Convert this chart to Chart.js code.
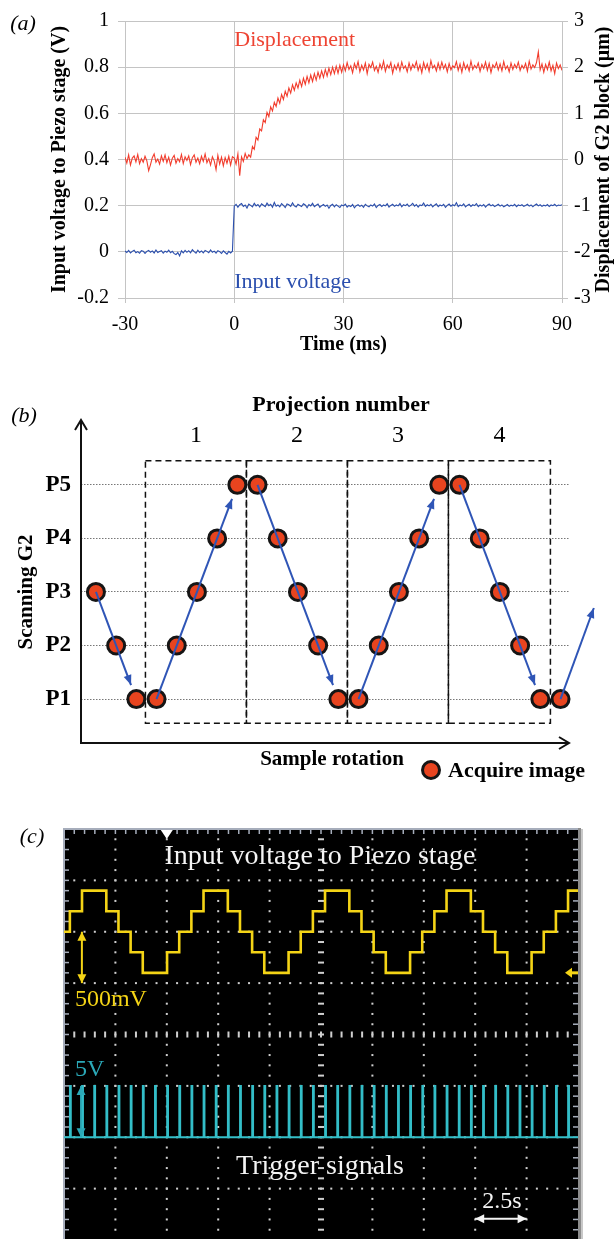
<!DOCTYPE html>
<html>
<head>
<meta charset="utf-8">
<title>Piezo stage scanning</title>
<script src="https://cdn.jsdelivr.net/npm/chart.js@4.4.1/dist/chart.umd.min.js"></script>
<style>
  html, body { margin: 0; padding: 0; background: #fff; }
  body { width: 615px; height: 1239px; overflow: hidden; position: relative; }
  canvas { position: absolute; left: 0; }
</style>
</head>
<body>
<canvas id="chart-a" width="615" height="390" style="top:0px"></canvas>
<canvas id="chart-b" width="615" height="410" style="top:390px"></canvas>
<canvas id="chart-c" width="615" height="430" style="top:810px"></canvas>
<script>
// ---------- (a) step response ----------
var timeStartMs = -30;
var timeStepMs = 0.5;

// input voltage to piezo stage (V), one sample every 0.5 ms from -30 ms
var inputVoltageV = [
  0.004,-0.003,0.006,-0.005,0.002,0.007,-0.004,0.001,-0.006,0.005,
  0.003,-0.007,0.002,0.006,-0.002,0.004,-0.005,0.008,-0.003,0.001,
  0.005,-0.006,0.003,-0.002,0.007,-0.004,0.002,-0.008,-0.012,-0.003,
  -0.018,0.004,-0.005,0.006,-0.002,0.005,-0.004,0.009,0.001,-0.006,
  0.007,-0.003,0.004,-0.005,0.006,0.002,-0.004,0.008,-0.002,0.003,
  -0.006,0.005,0.001,-0.007,0.004,-0.003,-0.010,0.002,-0.005,0.003,
  0.198,0.206,0.193,0.204,0.209,0.197,0.203,0.190,0.207,0.201,
  0.195,0.210,0.199,0.205,0.194,0.208,0.202,0.196,0.211,0.200,
  0.206,0.193,0.214,0.198,0.203,0.195,0.209,0.201,0.192,0.207,
  0.204,0.197,0.212,0.199,0.194,0.206,0.201,0.196,0.208,0.203,
  0.191,0.205,0.199,0.210,0.196,0.202,0.207,0.193,0.200,0.205,
  0.197,0.203,0.189,0.201,0.206,0.195,0.204,0.198,0.192,0.203,
  0.199,0.207,0.194,0.201,0.196,0.205,0.191,0.200,0.204,0.197,
  0.202,0.193,0.206,0.199,0.195,0.203,0.198,0.207,0.192,0.201,
  0.205,0.196,0.203,0.199,0.208,0.194,0.201,0.206,0.197,0.203,
  0.199,0.209,0.195,0.204,0.200,0.207,0.196,0.202,0.210,0.198,
  0.205,0.194,0.203,0.200,0.211,0.197,0.204,0.199,0.206,0.195,
  0.202,0.208,0.196,0.203,0.199,0.206,0.193,0.201,0.207,0.198,
  0.204,0.200,0.213,0.196,0.203,0.199,0.208,0.195,0.201,0.206,
  0.197,0.204,0.200,0.209,0.196,0.203,0.198,0.205,0.194,0.202,
  0.207,0.199,0.204,0.196,0.201,0.206,0.198,0.203,0.195,0.200,
  0.205,0.197,0.202,0.199,0.206,0.196,0.203,0.200,0.204,0.197,
  0.201,0.206,0.198,0.203,0.195,0.202,0.207,0.199,0.204,0.197,
  0.202,0.199,0.205,0.196,0.203,0.200,0.206,0.198,0.203,0.201,
  0.204
];

// displacement of G2 block (um), same sampling
var displacementUm = [
  0.05,-0.08,0.10,-0.12,0.03,0.08,-0.05,0.11,-0.09,0.02,
  -0.06,0.07,-0.03,-0.24,-0.11,0.04,0.12,-0.06,0.01,-0.10,
  0.08,-0.04,0.10,-0.07,0.05,-0.12,0.03,0.09,-0.08,0.02,
  -0.05,0.11,-0.09,0.06,-0.02,0.08,-0.11,0.04,0.10,-0.06,
  0.03,-0.09,0.07,-0.04,0.12,-0.07,0.02,-0.12,0.06,-0.03,
  -0.22,0.09,-0.10,0.05,-0.14,0.04,-0.08,0.07,-0.12,0.06,
  0.03,-0.10,0.12,-0.35,0.06,-0.04,0.13,0.02,
  0.10,0.05,0.28,0.22,0.48,0.42,0.66,0.62,0.86,0.80,
  1.02,0.93,1.14,1.05,1.24,1.15,1.33,1.22,1.41,1.30,
  1.48,1.37,1.55,1.44,1.62,1.50,1.66,1.55,1.72,1.58,
  1.76,1.63,1.80,1.66,1.83,1.69,1.86,1.72,1.89,1.76,
  1.92,1.78,1.95,1.81,1.98,1.84,2.00,1.86,2.02,1.87,
  2.04,1.89,
  2.05,1.92,2.10,1.95,2.03,1.88,2.08,1.97,2.12,1.90,
  2.04,1.94,2.09,1.86,2.06,1.99,2.11,1.93,2.02,1.89,
  2.07,1.96,2.13,1.91,2.05,1.98,2.10,1.87,2.04,1.95,
  2.08,1.92,2.11,1.97,2.03,1.90,2.09,1.94,2.06,1.99,
  2.12,1.93,2.05,1.88,2.10,1.96,2.07,1.91,2.14,1.98,
  2.04,1.92,2.09,1.95,2.11,1.97,2.06,1.90,2.08,1.94,
  2.03,1.99,2.12,1.93,2.07,1.89,2.10,1.96,2.05,1.92,
  2.13,1.95,2.04,1.98,2.09,1.91,2.06,1.97,2.11,1.93,
  2.08,1.88,2.05,1.99,2.10,1.94,2.07,1.92,2.12,1.96,
  2.03,1.90,2.09,1.95,2.06,1.98,2.11,1.93,2.04,1.97,
  2.08,1.91,2.13,1.96,2.05,1.99,2.10,2.33,1.94,2.07,
  1.89,2.06,1.95,2.11,1.92,2.04,1.86,2.09,1.97,2.05,
  1.93
];

var timeTicksMs = [-30, 0, 30, 60, 90];
var voltageTicksV = [-0.2, 0, 0.2, 0.4, 0.6, 0.8, 1];
var displacementTicksUm = [-3, -2, -1, 0, 1, 2, 3];

// ---------- (b) scanning scheme ----------
var sampleIndex = [0,1,2,3,4,5,6,7,8,9,10,11,12,13,14,15,16,17,18,19,20,21,22,23];
var scanLevel =   [3,2,1,1,2,3,4,5,5,4, 3, 2, 1, 1, 2, 3, 4, 5, 5, 4, 3, 2, 1, 1];
var levelTicks = [1, 2, 3, 4, 5];
var levelNames = ['P1', 'P2', 'P3', 'P4', 'P5'];
var arrowStartX = [0, 3, 8, 13, 18, 23];
var arrowStartY = [3, 1, 5, 1, 5, 1];
var arrowEndX = [2, 7, 12, 17, 22, 24.65];
var arrowEndY = [1, 5, 1, 5, 1, 2.7];
var projectionEdges = [2.45, 7.45, 12.45, 17.45, 22.5];
var projectionNumbers = ['1', '2', '3', '4'];

// ---------- (c) oscilloscope ----------
var scopeStartSec = -0.306;
var scopeStepSec = 0.591;
var scopeLevelV = [
  0.4,0.6,0.8,0.8,0.6,0.4,0.2,0,0,0.2,
  0.4,0.6,0.8,0.8,0.6,0.4,0.2,0,0,0.2,
  0.4,0.6,0.8,0.8,0.6,0.4,0.2,0,0,0.2,
  0.4,0.6,0.8,0.8,0.6,0.4,0.2,0,0,0.2,
  0.4,0.6,0.8,0.8
];
var triggerHighV = 5;
var timeDivSec = 2.5;
var yellowDivV = 0.5;
var triggerDivV = 5;

var serif = "'Liberation Serif', 'Times New Roman', serif";
Chart.defaults.font.family = serif;
Chart.defaults.color = '#000';

var redTrace = '#f23c2c';
var blueTrace = '#2b4fae';
var gridGray = '#c4c4c4';

function label(ctx, text, x, y, font, color, align, angle) {
  ctx.save();
  ctx.translate(x, y);
  if (angle) ctx.rotate(angle);
  ctx.font = font;
  ctx.fillStyle = color;
  ctx.textAlign = align || 'center';
  ctx.textBaseline = 'middle';
  ctx.fillText(text, 0, 0);
  ctx.restore();
}

function arrowHead(ctx, x0, y0, x1, y1, len, half, color) {
  var a = Math.atan2(y1 - y0, x1 - x0);
  var c = Math.cos(a), s = Math.sin(a);
  ctx.save();
  ctx.fillStyle = color;
  ctx.beginPath();
  ctx.moveTo(x1, y1);
  ctx.lineTo(x1 - len * c + half * s, y1 - len * s - half * c);
  ctx.lineTo(x1 - len * c - half * s, y1 - len * s + half * c);
  ctx.closePath();
  ctx.fill();
  ctx.restore();
}

function doubleArrow(ctx, x0, y0, x1, y1, color, width) {
  ctx.save();
  ctx.strokeStyle = color;
  ctx.lineWidth = width;
  ctx.beginPath();
  ctx.moveTo(x0, y0);
  ctx.lineTo(x1, y1);
  ctx.stroke();
  ctx.restore();
  arrowHead(ctx, x0, y0, x1, y1, 9, 4.5, color);
  arrowHead(ctx, x1, y1, x0, y0, 9, 4.5, color);
}

function fixedTicks(list) {
  return function (scale) {
    scale.ticks = list.map(function (v) { return { value: v }; });
  };
}

var timeMs = inputVoltageV.map(function (v, i) { return timeStartMs + i * timeStepMs; });

// ---------- chart (a) ----------
var panelAText = {
  id: 'panelAText',
  afterDraw: function (chart) {
    var ctx = chart.ctx, a = chart.chartArea, xs = chart.scales.x, yv = chart.scales.y;
    label(ctx, '(a)', 23, 24, 'italic 22px ' + serif, '#000');
    label(ctx, 'Displacement', xs.getPixelForValue(0), yv.getPixelForValue(0.917), '22px ' + serif, '#ee4433', 'left');
    label(ctx, 'Input voltage', xs.getPixelForValue(0), yv.getPixelForValue(-0.13), '22px ' + serif, blueTrace, 'left');
    label(ctx, 'Displacement of G2 block (\u03bcm)', 604, (a.top + a.bottom) / 2, 'bold 20px ' + serif, '#000', 'center', -Math.PI / 2);
  }
};

new Chart(document.getElementById('chart-a'), {
  type: 'line',
  data: {
    datasets: [
      {
        label: 'Displacement',
        data: timeMs.map(function (t, i) { return { x: t, y: displacementUm[i] }; }),
        yAxisID: 'y1',
        borderColor: redTrace,
        borderWidth: 1.1,
        pointRadius: 0,
        tension: 0
      },
      {
        label: 'Input voltage',
        data: timeMs.map(function (t, i) { return { x: t, y: inputVoltageV[i] }; }),
        yAxisID: 'y',
        borderColor: blueTrace,
        borderWidth: 1.1,
        pointRadius: 0,
        tension: 0
      }
    ]
  },
  options: {
    responsive: false,
    animation: false,
    devicePixelRatio: 1,
    layout: { padding: { left: 40, top: 21, right: 0, bottom: 32 } },
    plugins: { legend: { display: false }, tooltip: { enabled: false } },
    scales: {
      x: {
        type: 'linear', min: -30, max: 90,
        afterBuildTicks: fixedTicks(timeTicksMs),
        ticks: { font: { size: 20 }, color: '#000', padding: 10, callback: function (v) { return String(v); } },
        grid: { color: gridGray, tickLength: 5, tickColor: gridGray },
        border: { color: gridGray },
        title: { display: true, text: 'Time (ms)', color: '#000', font: { size: 20, weight: 'bold' }, padding: { top: 0, bottom: 1 } },
        afterFit: function (s) { s.height = 60; }
      },
      y: {
        position: 'left', min: -0.2, max: 1,
        afterBuildTicks: fixedTicks(voltageTicksV),
        ticks: { font: { size: 20 }, color: '#000', padding: 9, callback: function (v) { return String(Math.round(v * 10) / 10); } },
        grid: { color: gridGray, tickLength: 7, tickColor: gridGray },
        border: { color: gridGray },
        title: { display: true, text: 'Input voltage to Piezo stage (V)', color: '#000', font: { size: 20, weight: 'bold' }, padding: { top: 8, bottom: 0 } },
        afterFit: function (s) { s.width = 85; }
      },
      y1: {
        position: 'right', min: -3, max: 3,
        afterBuildTicks: fixedTicks(displacementTicksUm),
        ticks: { font: { size: 20 }, color: '#000', padding: 6, callback: function (v) { return String(v); } },
        grid: { drawOnChartArea: false, tickLength: 6, tickColor: gridGray, color: gridGray },
        border: { color: gridGray },
        afterFit: function (s) { s.width = 53; }
      }
    }
  },
  plugins: [panelAText]
});

// ---------- chart (b) ----------
var pointFill = '#e8441f';
var pointEdge = '#151515';

var panelBDraw = {
  id: 'panelBDraw',
  beforeDatasetsDraw: function (chart) {
    var ctx = chart.ctx, xs = chart.scales.x, ys = chart.scales.y;
    ctx.save();
    ctx.strokeStyle = '#111';
    ctx.lineWidth = 1.5;
    ctx.setLineDash([6, 4]);
    for (var k = 0; k < projectionEdges.length - 1; k++) {
      var x0 = xs.getPixelForValue(projectionEdges[k]);
      var x1 = xs.getPixelForValue(projectionEdges[k + 1]);
      var y0 = ys.getPixelForValue(5.45);
      var y1 = ys.getPixelForValue(0.55);
      ctx.strokeRect(x0, y0, x1 - x0, y1 - y0);
    }
    ctx.restore();
  },
  afterDatasetsDraw: function (chart) {
    var ctx = chart.ctx, xs = chart.scales.x, ys = chart.scales.y;
    var col = '#2f55b6';
    for (var k = 0; k < arrowStartX.length; k++) {
      var x0 = xs.getPixelForValue(arrowStartX[k]), y0 = ys.getPixelForValue(arrowStartY[k]);
      var x1 = xs.getPixelForValue(arrowEndX[k]), y1 = ys.getPixelForValue(arrowEndY[k]);
      var isSample = sampleIndex.indexOf(arrowEndX[k]) >= 0;
      if (isSample) {
        var len = Math.hypot(x1 - x0, y1 - y0), gap = 15;
        x1 = x0 + (x1 - x0) * (len - gap) / len;
        y1 = y0 + (y1 - y0) * (len - gap) / len;
      }
      ctx.save();
      ctx.strokeStyle = col;
      ctx.lineWidth = 2;
      ctx.beginPath();
      ctx.moveTo(x0, y0);
      ctx.lineTo(x1, y1);
      ctx.stroke();
      ctx.restore();
      arrowHead(ctx, x0, y0, x1, y1, 10, 4, col);
    }
  },
  afterDraw: function (chart) {
    var ctx = chart.ctx, a = chart.chartArea, xs = chart.scales.x, ys = chart.scales.y;
    // axes with open arrowheads
    ctx.save();
    ctx.strokeStyle = '#111';
    ctx.lineWidth = 2;
    ctx.beginPath();
    ctx.moveTo(a.left, a.top);
    ctx.lineTo(a.left, a.bottom);
    ctx.lineTo(a.right, a.bottom);
    ctx.moveTo(a.left - 6, a.top + 10);
    ctx.lineTo(a.left, a.top);
    ctx.lineTo(a.left + 6, a.top + 10);
    ctx.moveTo(a.right - 10, a.bottom - 6);
    ctx.lineTo(a.right, a.bottom);
    ctx.lineTo(a.right - 10, a.bottom + 6);
    ctx.stroke();
    ctx.restore();

    label(ctx, '(b)', 24, 26, 'italic 22px ' + serif, '#000');
    label(ctx, 'Projection number', 341, 15, 'bold 22px ' + serif, '#000');
    for (var k = 0; k < projectionNumbers.length; k++) {
      var cx = xs.getPixelForValue((projectionEdges[k] + projectionEdges[k + 1]) / 2);
      label(ctx, projectionNumbers[k], cx, ys.getPixelForValue(5.91), '24px ' + serif, '#000');
    }
    label(ctx, 'Scanning G2', 27, 202, 'bold 21px ' + serif, '#000', 'center', -Math.PI / 2);
    label(ctx, 'Sample rotation', 332, 370, 'bold 21px ' + serif, '#000');
    // legend marker
    ctx.save();
    ctx.beginPath();
    ctx.arc(431, 380, 8.5, 0, Math.PI * 2);
    ctx.fillStyle = pointFill;
    ctx.fill();
    ctx.lineWidth = 3;
    ctx.strokeStyle = pointEdge;
    ctx.stroke();
    ctx.restore();
    label(ctx, 'Acquire image', 448, 381, 'bold 22px ' + serif, '#000', 'left');
  }
};

new Chart(document.getElementById('chart-b'), {
  type: 'scatter',
  data: {
    datasets: [{
      label: 'Acquire image',
      data: sampleIndex.map(function (x, i) { return { x: x, y: scanLevel[i] }; }),
      pointRadius: 8.5,
      pointBorderWidth: 3,
      pointBackgroundColor: pointFill,
      pointBorderColor: pointEdge,
      showLine: false,
      clip: false
    }]
  },
  options: {
    responsive: false,
    animation: false,
    devicePixelRatio: 1,
    layout: { padding: { left: 0, top: 30, right: 46, bottom: 57 } },
    plugins: { legend: { display: false }, tooltip: { enabled: false } },
    scales: {
      x: { type: 'linear', display: false, min: -0.74, max: 23.42 },
      y: {
        min: 0.18, max: 6.21,
        afterBuildTicks: fixedTicks(levelTicks),
        ticks: {
          font: { size: 23, weight: 'bold' }, color: '#000', padding: 10,
          callback: function (v) { return levelNames[levelTicks.indexOf(v)]; }
        },
        grid: { color: '#777', lineWidth: 1, drawTicks: false },
        border: { display: false, dash: [1.5, 1.5] },
        afterFit: function (s) { s.width = 81; }
      }
    }
  },
  plugins: [panelBDraw]
});

// ---------- chart (c) ----------
var scopeTimes = scopeLevelV.map(function (v, k) { return scopeStartSec + k * scopeStepSec; });
var triggerTrace = [{ x: 0, y: 0 }];
scopeTimes.forEach(function (t) {
  if (t <= 0 || t >= 25) return;
  triggerTrace.push({ x: t, y: 0 }, { x: t, y: triggerHighV }, { x: t + 0.05, y: triggerHighV }, { x: t + 0.05, y: 0 });
});
triggerTrace.push({ x: 25, y: 0 });

var scopeDraw = {
  id: 'scopeDraw',
  beforeDatasetsDraw: function (chart) {
    var ctx = chart.ctx, a = chart.chartArea, xs = chart.scales.x, ys = chart.scales.yT;
    var divW = xs.getPixelForValue(timeDivSec) - xs.getPixelForValue(0);
    var divH = ys.getPixelForValue(0) - ys.getPixelForValue(triggerDivV);
    var nx = 10, ny = 8, sub = 5, i, j, m, px, py;
    ctx.save();
    ctx.fillStyle = '#000';
    ctx.fillRect(a.left, a.top, a.right - a.left, a.bottom - a.top);
    ctx.fillStyle = '#cfcfcf';
    for (j = 1; j < nx; j++) {
      px = a.left + j * divW;
      for (m = 1; m < ny * sub; m++) {
        py = a.top + m * divH / sub;
        if (j === nx / 2) ctx.fillRect(px - 3, py - 1, 6, 2);
        else ctx.fillRect(px - 1, py - 1, 2, 2);
      }
    }
    for (i = 1; i < ny; i++) {
      py = a.top + i * divH;
      for (m = 1; m < nx * sub; m++) {
        px = a.left + m * divW / sub;
        if (i === ny / 2) ctx.fillRect(px - 1, py - 3, 2, 6);
        else ctx.fillRect(px - 1, py - 1, 2, 2);
      }
    }
    // frame and edge ticks
    ctx.fillStyle = '#a6adbb';
    ctx.fillRect(a.left - 1, a.top - 1, a.right - a.left + 2, 2);
    ctx.fillRect(a.left - 1, a.top - 1, 2, a.bottom - a.top + 2);
    for (m = 1; m < nx * sub; m++) {
      px = a.left + m * divW / sub;
      ctx.fillRect(px - 0.75, a.top, 1.5, 5);
    }
    for (m = 1; m < ny * sub; m++) {
      py = a.top + m * divH / sub;
      ctx.fillRect(a.left, py - 0.75, 5, 1.5);
      ctx.fillRect(a.right - 5, py - 0.75, 5, 1.5);
    }
    ctx.fillStyle = '#8c8c8c';
    ctx.fillRect(a.right, a.top - 1, 3, a.bottom - a.top + 1);
    ctx.fillStyle = '#c8c8c8';
    ctx.fillRect(a.right + 3, a.top, 2, a.bottom - a.top);
    ctx.restore();
  },
  afterDatasetsDraw: function (chart) {
    var ctx = chart.ctx, a = chart.chartArea, xs = chart.scales.x, yv = chart.scales.yV, yt = chart.scales.yT;
    var white = '#f4f4f4', yellow = '#f4d416', cyan = '#2ba9b8';
    label(ctx, 'Input voltage to Piezo stage', xs.getPixelForValue(12.45), yt.getPixelForValue(27.3), '28px ' + serif, white);
    label(ctx, 'Trigger signals', xs.getPixelForValue(12.45), yt.getPixelForValue(-2.9), '28px ' + serif, white);
    label(ctx, '2.5s', xs.getPixelForValue(21.3), yt.getPixelForValue(-6.3), '24px ' + serif, white);
    doubleArrow(ctx, xs.getPixelForValue(20), yt.getPixelForValue(-7.94), xs.getPixelForValue(20 + timeDivSec), yt.getPixelForValue(-7.94), white, 2);
    doubleArrow(ctx, xs.getPixelForValue(0.87), yv.getPixelForValue(0.4), xs.getPixelForValue(0.87), yv.getPixelForValue(0.4 - yellowDivV), yellow, 2);
    label(ctx, '500mV', xs.getPixelForValue(0.53), yv.getPixelForValue(-0.264), '24px ' + serif, yellow, 'left');
    doubleArrow(ctx, xs.getPixelForValue(0.83), yt.getPixelForValue(0), xs.getPixelForValue(0.83), yt.getPixelForValue(triggerDivV), cyan, 2);
    label(ctx, '5V', xs.getPixelForValue(0.53), yt.getPixelForValue(6.56), '24px ' + serif, cyan, 'left');
    // trigger position marker
    var tx = xs.getPixelForValue(5);
    ctx.save();
    ctx.fillStyle = '#fff';
    ctx.beginPath();
    ctx.moveTo(tx - 6, a.top + 1);
    ctx.lineTo(tx + 6, a.top + 1);
    ctx.lineTo(tx, a.top + 10);
    ctx.closePath();
    ctx.fill();
    ctx.restore();
    // channel 1 ground marker
    var gy = yv.getPixelForValue(0);
    ctx.save();
    ctx.fillStyle = yellow;
    ctx.fillRect(a.right - 8, gy - 1.5, 8, 3);
    ctx.beginPath();
    ctx.moveTo(a.right - 13, gy);
    ctx.lineTo(a.right - 6, gy - 5);
    ctx.lineTo(a.right - 6, gy + 5);
    ctx.closePath();
    ctx.fill();
    ctx.restore();
    label(ctx, '(c)', 32, 27, 'italic 22px ' + serif, '#000');
  }
};

new Chart(document.getElementById('chart-c'), {
  type: 'line',
  data: {
    datasets: [
      {
        label: 'Input voltage to Piezo stage',
        data: scopeTimes.map(function (t, k) { return { x: t, y: scopeLevelV[k] }; }),
        yAxisID: 'yV',
        borderColor: '#f4d416',
        borderWidth: 2.6,
        stepped: true,
        pointRadius: 0
      },
      {
        label: 'Trigger signals',
        data: triggerTrace,
        yAxisID: 'yT',
        borderColor: '#33bec8',
        borderWidth: 1.8,
        pointRadius: 0,
        tension: 0
      }
    ]
  },
  options: {
    responsive: false,
    animation: false,
    devicePixelRatio: 1,
    layout: { padding: { left: 64, top: 19, right: 37, bottom: 0 } },
    plugins: { legend: { display: false }, tooltip: { enabled: false } },
    scales: {
      x: { type: 'linear', display: false, min: 0, max: 10 * timeDivSec },
      yV: { display: false, min: -2.6, max: 1.4 },
      yT: { display: false, min: -10, max: 30 }
    }
  },
  plugins: [scopeDraw]
});
</script>
</body>
</html>
